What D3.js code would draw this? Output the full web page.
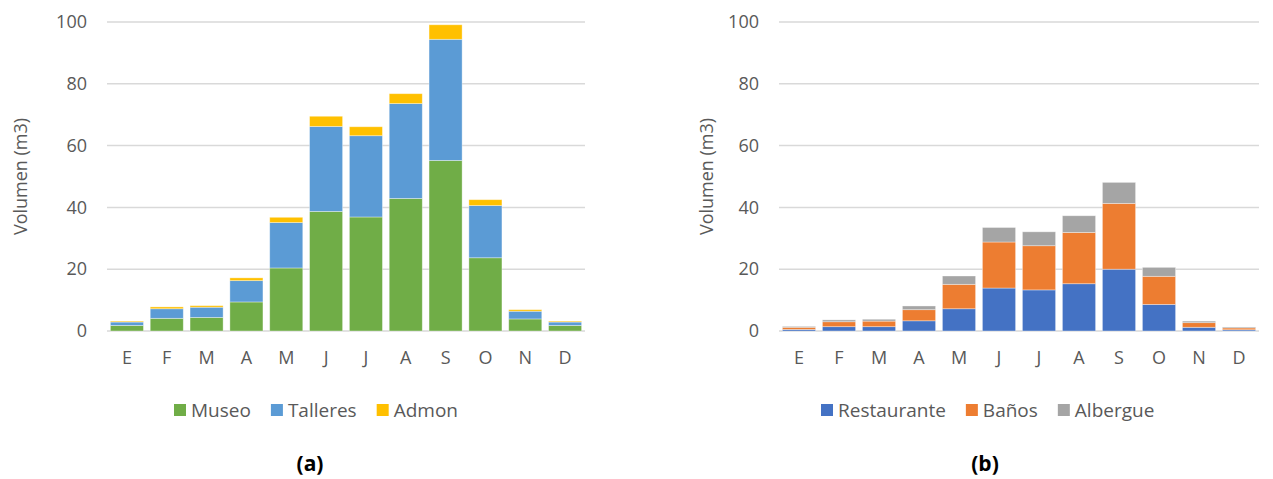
<!DOCTYPE html>
<html>
<head>
<meta charset="utf-8">
<script src="https://cdn.jsdelivr.net/npm/d3@7"></script>
<style>
  html, body { margin: 0; padding: 0; background: #fff; }
  svg { display: block; font-family: "Open Sans", sans-serif; }
</style>
</head>
<body>
<svg id="chart" width="1273" height="479"></svg>
<script>
// Months (Spanish initials)
const months = ["E", "F", "M", "A", "M", "J", "J", "A", "S", "O", "N", "D"];
const yTicks = [0, 20, 40, 60, 80, 100];

// Panel (a)
const seriesA = ["Museo", "Talleres", "Admon"];
const museo    = [1.8, 4.1, 4.4, 9.4, 20.4, 38.7, 36.9, 42.9, 55.2, 23.7, 3.9, 1.8];
const talleres = [1.1, 3.1, 3.3, 6.9, 14.7, 27.5, 26.3, 30.7, 39.2, 16.9, 2.5, 1.1];
const admon    = [0.3, 0.6, 0.5, 0.9, 1.7, 3.3, 2.9, 3.2, 4.7, 1.9, 0.5, 0.3];
const colorsA  = ["#70AD47", "#5B9BD5", "#FFC000"];

// Panel (b)
const seriesB = ["Restaurante", "Baños", "Albergue"];
const restaurante = [0.5, 1.4, 1.4, 3.3, 7.2, 13.9, 13.3, 15.3, 20.0, 8.6, 1.2, 0.4];
const banos       = [0.7, 1.6, 1.8, 3.6, 7.9, 14.9, 14.3, 16.6, 21.3, 9.1, 1.5, 0.6];
const albergue    = [0.3, 0.6, 0.6, 1.2, 2.7, 4.7, 4.5, 5.4, 6.8, 2.9, 0.5, 0.3];
const colorsB     = ["#4472C4", "#ED7D31", "#A5A5A5"];

const svg = d3.select("#chart");
const textColor = "#595959";

function drawPanel(opts) {
  const { x0, x1, y0, y1, keys, values, colors, yTitleX, legendX, title, titleX } = opts;

  const rows = months.map((m, i) => {
    const r = { idx: i, month: m };
    keys.forEach((k, j) => { r[k] = values[j][i]; });
    return r;
  });

  const x = d3.scaleBand().domain(d3.range(months.length)).range([x0, x1]).paddingInner(0.17).paddingOuter(0.085);
  const y = d3.scaleLinear().domain([0, 100]).range([y1, y0]);

  const g = svg.append("g");

  // gridlines
  g.append("g")
    .selectAll("line")
    .data(yTicks)
    .join("line")
    .attr("x1", x0).attr("x2", x1)
    .attr("y1", d => y(d)).attr("y2", d => y(d))
    .attr("stroke", "#d9d9d9")
    .attr("stroke-width", 1.5);

  // y axis labels
  const yAxis = d3.axisLeft(y).tickValues(yTicks).tickSize(0).tickPadding(20);
  const ya = g.append("g").attr("transform", `translate(${x0},0)`).call(yAxis);
  ya.select(".domain").remove();
  ya.selectAll("text").attr("fill", textColor).style("font-size", "18px").style("font-family", "Open Sans, sans-serif");

  // y axis title
  g.append("text")
    .attr("transform", `translate(${yTitleX},${(y0 + y1) / 2}) rotate(-90)`)
    .attr("text-anchor", "middle")
    .attr("dominant-baseline", "central")
    .attr("fill", textColor)
    .style("font-size", "18px")
    .text("Volumen (m3)");

  // stacked bars
  const stacked = d3.stack().keys(keys)(rows);
  g.append("g")
    .selectAll("g")
    .data(stacked)
    .join("g")
    .attr("fill", (d, i) => colors[i])
    .selectAll("rect")
    .data(d => d)
    .join("rect")
    .attr("x", d => x(d.data.idx))
    .attr("width", x.bandwidth())
    .attr("y", d => y(d[1]))
    .attr("height", d => y(d[0]) - y(d[1]))
    .attr("stroke", "rgba(255,255,255,0.45)")
    .attr("stroke-width", 0.8);

  // x axis labels
  const xAxis = d3.axisBottom(x).tickFormat(i => months[i]).tickSize(0).tickPadding(20);
  const xa = g.append("g").attr("transform", `translate(0,${y1})`).call(xAxis);
  xa.select(".domain").remove();
  xa.selectAll("text").attr("fill", textColor).style("font-size", "18px").style("font-family", "Open Sans, sans-serif");

  // legend
  const legend = g.append("g").attr("transform", `translate(${legendX},410)`);
  let cx = 0;
  keys.forEach((k, i) => {
    const item = legend.append("g").attr("transform", `translate(${cx},0)`);
    item.append("rect").attr("x", 0).attr("y", -6).attr("width", 12).attr("height", 12).attr("fill", colors[i]);
    const t = item.append("text")
      .attr("x", 17).attr("y", 0)
      .attr("dominant-baseline", "central")
      .attr("fill", textColor)
      .style("font-size", "19px")
      .text(k);
    cx += 17 + t.node().getComputedTextLength() + 20;
  });

  // panel label
  g.append("text")
    .attr("x", titleX).attr("y", 463)
    .attr("text-anchor", "middle")
    .attr("dominant-baseline", "central")
    .attr("fill", "#000")
    .style("font-size", "21px")
    .style("font-weight", "bold")
    .text(title);
}

drawPanel({
  x0: 107, x1: 585, y0: 22, y1: 331,
  keys: seriesA, values: [museo, talleres, admon], colors: colorsA,
  yTitleX: 20, legendX: 174, title: "(a)", titleX: 310
});

drawPanel({
  x0: 779, x1: 1259, y0: 22, y1: 331,
  keys: seriesB, values: [restaurante, banos, albergue], colors: colorsB,
  yTitleX: 706, legendX: 821, title: "(b)", titleX: 985
});
</script>
</body>
</html>
